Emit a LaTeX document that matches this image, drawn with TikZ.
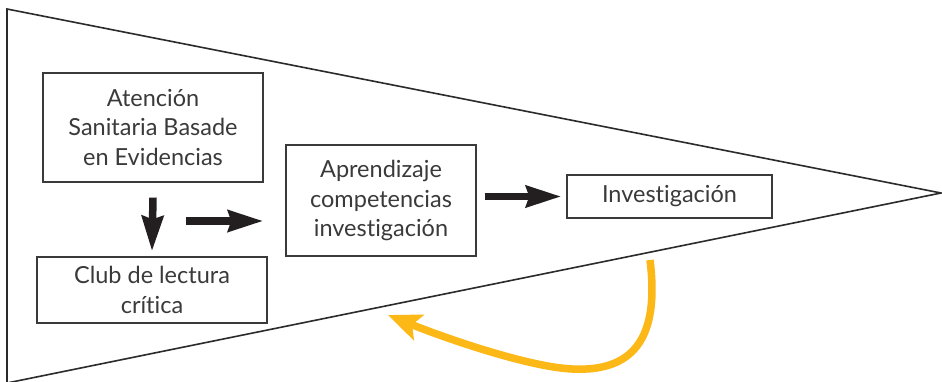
\documentclass[tikz,border=0pt]{standalone}
\usepackage{fontspec}
\setmainfont{Lato}[Ligatures=NoCommon]
\usetikzlibrary{arrows.meta,calc}
\definecolor{linegray}{HTML}{2B2B2B}
\definecolor{boxgray}{HTML}{3A3A3A}
\definecolor{txtgray}{HTML}{3A3A3A}
\definecolor{arrblack}{HTML}{231F20}
\definecolor{gold}{HTML}{FBB817}
\tikzset{
  box/.style={draw=boxgray, line width=1.3pt, rectangle, inner sep=0pt, align=center,
    text=txtgray, font=\fontsize{23.5}{29.5}\selectfont},
  blackarrow/.style={draw=arrblack, line width=7.5pt,
    -{Stealth[length=35pt,width=21pt,inset=3pt]}},
  goldarrow/.style={draw=gold, line width=7.5pt,
    -{Stealth[length=33pt,width=27pt,inset=7pt]}}
}
\begin{document}
\begin{tikzpicture}[x=1pt,y=-1pt]
\useasboundingbox (0,0) rectangle (942,381);
\fill[white] (0,0) rectangle (942,381);
% pennant
\coordinate (tl) at (7,9);
\coordinate (apex) at (941,193);
\coordinate (bl) at (7,383);
\draw[linegray, line width=1.6pt, line join=miter] (bl) -- (tl) -- (apex) -- (bl);
% boxes
\node[box, minimum width=220pt, minimum height=109pt] (b1) at (153,127.5)
  {Atención\\Sanitaria Basade\\en Evidencias};
\node[box, minimum width=230pt, minimum height=66pt] (b2) at (152,290)
  {Club de lectura\\crítica};
\node[box, minimum width=190pt, minimum height=111pt] (b3) at (381,200.5)
  {Aprendizaje\\competencias\\investigación};
\node[box, minimum width=205pt, minimum height=43pt] (b4) at (669.5,196.5)
  {Investigación};
% black arrows
\draw[blackarrow] ([yshift=-15pt]b1.south) -- ([yshift=5pt]b2.north);
\coordinate (r1) at (186,221);
\draw[blackarrow] (r1) -- ([xshift=-22pt]b3.west |- r1);
\draw[blackarrow] ([xshift=8pt]b3.east |- b4.west) -- ([xshift=-5pt]b4.west);
% gold arrow
\coordinate (g0) at (650,260);
\coordinate (g1) at (572,369);
\coordinate (g2) at (388,315);
\draw[goldarrow] (g0) .. controls (660,340) and (632,372) .. (g1)
  .. controls (530,367) and (450,340) .. (g2);
\end{tikzpicture}
\end{document}
